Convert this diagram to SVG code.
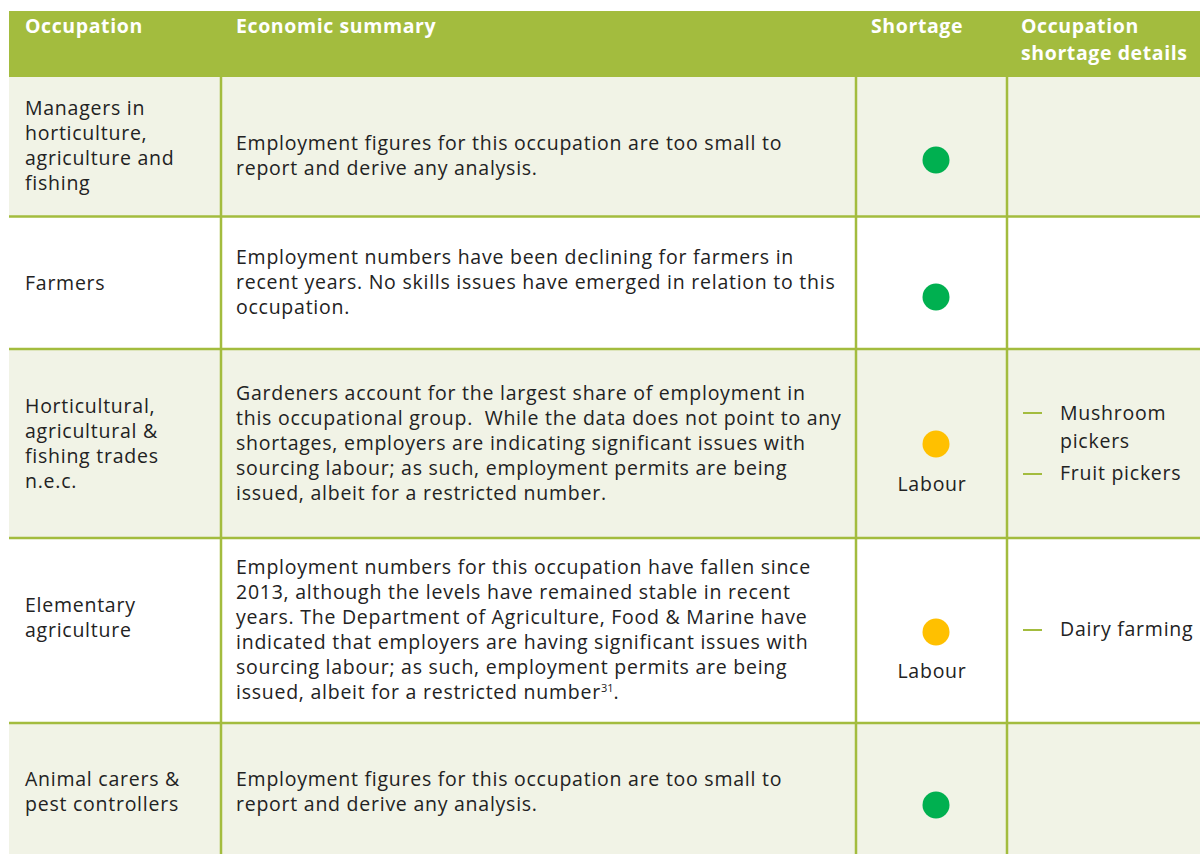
<svg xmlns="http://www.w3.org/2000/svg" width="1200" height="854" viewBox="0 0 1200 854">
<style>
.hd{font-family:"Open Sans","Liberation Sans",sans-serif;font-weight:700;font-size:19.5px;letter-spacing:0.6px;fill:#ffffff}
.t{font-family:"Open Sans","Liberation Sans",sans-serif;font-size:19.5px;letter-spacing:0.75px;fill:#222222}
.ln{stroke:#A3BC3E;stroke-width:2.5;fill:none}
.dash{stroke:#A3BC3E;stroke-width:2}
.g{fill:#00B050}
.y{fill:#FFC000}
</style>
<rect x="0" y="0" width="1200" height="854" fill="#ffffff"/>
<g id="header">
<rect x="9" y="11" width="1191" height="66" fill="#A3BC3E"/>
<text class="hd" x="25" y="33">Occupation</text>
<text class="hd" x="236" y="33">Economic summary</text>
<text class="hd" x="871" y="33">Shortage</text>
<text class="hd" x="1021" y="33">Occupation</text>
<text class="hd" x="1021" y="60">shortage details</text>
</g>
<g id="row-backgrounds">
<rect x="9" y="77" width="1191" height="139" fill="#F1F3E6"/>
<rect x="9" y="216" width="1191" height="133" fill="#ffffff"/>
<rect x="9" y="349" width="1191" height="189" fill="#F1F3E6"/>
<rect x="9" y="538" width="1191" height="185" fill="#ffffff"/>
<rect x="9" y="723" width="1191" height="131" fill="#F1F3E6"/>
</g>
<g id="grid">
<line class="ln" x1="221" y1="77" x2="221" y2="854"/>
<line class="ln" x1="856" y1="77" x2="856" y2="854"/>
<line class="ln" x1="1007" y1="77" x2="1007" y2="854"/>
<line class="ln" x1="9" y1="216.5" x2="1200" y2="216.5"/>
<line class="ln" x1="9" y1="349" x2="1200" y2="349"/>
<line class="ln" x1="9" y1="538" x2="1200" y2="538"/>
<line class="ln" x1="9" y1="723" x2="1200" y2="723"/>
</g>
<g id="row1">
<text class="t" x="25" y="115">Managers in</text>
<text class="t" x="25" y="140">horticulture,</text>
<text class="t" x="25" y="165">agriculture and</text>
<text class="t" x="25" y="190">fishing</text>
<text class="t" x="236" y="150">Employment figures for this occupation are too small to</text>
<text class="t" x="236" y="175">report and derive any analysis.</text>
<circle class="g" cx="936" cy="160" r="13.5"/>
</g>
<g id="row2">
<text class="t" x="25" y="290">Farmers</text>
<text class="t" x="236" y="264">Employment numbers have been declining for farmers in</text>
<text class="t" x="236" y="289">recent years. No skills issues have emerged in relation to this</text>
<text class="t" x="236" y="314">occupation.</text>
<circle class="g" cx="936" cy="297" r="13.5"/>
</g>
<g id="row3">
<text class="t" x="25" y="413">Horticultural,</text>
<text class="t" x="25" y="438">agricultural &amp;</text>
<text class="t" x="25" y="463">fishing trades</text>
<text class="t" x="25" y="488">n.e.c.</text>
<text class="t" x="236" y="400">Gardeners account for the largest share of employment in</text>
<text class="t" x="236" y="425" xml:space="preserve">this occupational group.  While the data does not point to any</text>
<text class="t" x="236" y="450">shortages, employers are indicating significant issues with</text>
<text class="t" x="236" y="475">sourcing labour; as such, employment permits are being</text>
<text class="t" x="236" y="500">issued, albeit for a restricted number.</text>
<circle class="y" cx="936" cy="444" r="13.5"/>
<text class="t" x="932" y="491" text-anchor="middle">Labour</text>
<line class="dash" x1="1023" y1="413" x2="1042" y2="413"/>
<text class="t" x="1060" y="420">Mushroom</text>
<text class="t" x="1060" y="448">pickers</text>
<line class="dash" x1="1023" y1="474" x2="1042" y2="474"/>
<text class="t" x="1060" y="480">Fruit pickers</text>
</g>
<g id="row4">
<text class="t" x="25" y="612">Elementary</text>
<text class="t" x="25" y="637">agriculture</text>
<text class="t" x="236" y="574">Employment numbers for this occupation have fallen since</text>
<text class="t" x="236" y="599">2013, although the levels have remained stable in recent</text>
<text class="t" x="236" y="624">years. The Department of Agriculture, Food &amp; Marine have</text>
<text class="t" x="236" y="649">indicated that employers are having significant issues with</text>
<text class="t" x="236" y="674">sourcing labour; as such, employment permits are being</text>
<text class="t" x="236" y="699">issued, albeit for a restricted number<tspan font-size="11" letter-spacing="0" dy="-7">31</tspan><tspan dy="7">.</tspan></text>
<circle class="y" cx="936" cy="632" r="13.5"/>
<text class="t" x="932" y="678" text-anchor="middle">Labour</text>
<line class="dash" x1="1023" y1="630" x2="1042" y2="630"/>
<text class="t" x="1060" y="636">Dairy farming</text>
</g>
<g id="row5">
<text class="t" x="25" y="786">Animal carers &amp;</text>
<text class="t" x="25" y="811">pest controllers</text>
<text class="t" x="236" y="786">Employment figures for this occupation are too small to</text>
<text class="t" x="236" y="811">report and derive any analysis.</text>
<circle class="g" cx="936" cy="805" r="13.5"/>
</g>
</svg>
